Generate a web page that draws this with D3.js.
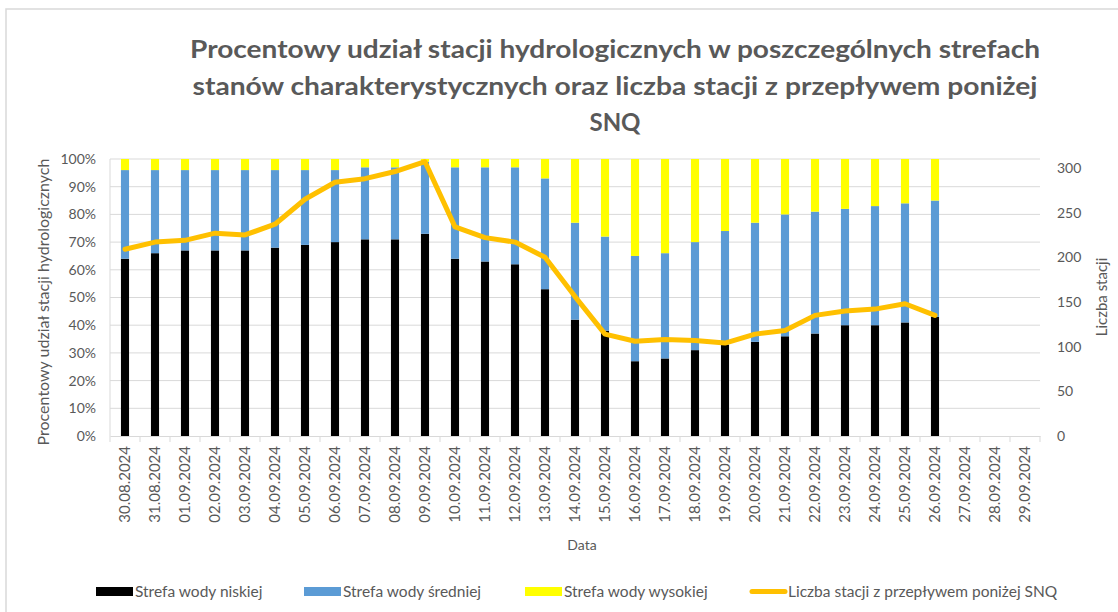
<!DOCTYPE html>
<html>
<head>
<meta charset="utf-8">
<script src="https://cdn.jsdelivr.net/npm/d3@7"></script>
<style>
  html, body { margin: 0; padding: 0; background: #fff; }
  svg { display: block; font-family: Lato, "Open Sans", sans-serif; }
</style>
</head>
<body>
<svg id="chart" width="1118" height="612"></svg>
<script>
const dates = ["30.08.2024","31.08.2024","01.09.2024","02.09.2024","03.09.2024","04.09.2024","05.09.2024","06.09.2024","07.09.2024","08.09.2024","09.09.2024","10.09.2024","11.09.2024","12.09.2024","13.09.2024","14.09.2024","15.09.2024","16.09.2024","17.09.2024","18.09.2024","19.09.2024","20.09.2024","21.09.2024","22.09.2024","23.09.2024","24.09.2024","25.09.2024","26.09.2024","27.09.2024","28.09.2024","29.09.2024"];
const lowZone  = [64,66,67,67,67,68,69,70,71,71,73,64,63,62,53,42,38,27,28,31,33,34,36,37,40,40,41,43];
const midZone  = [32,30,29,29,29,28,27,26,26,26,26,33,34,35,40,35,34,38,38,39,41,43,44,44,42,43,43,42];
const highZone = [4,4,4,4,4,4,4,4,3,3,1,3,3,3,7,23,28,35,34,30,26,23,20,19,18,17,16,15];
const belowSNQ = [209,217,219,227,225,237,265,284,288,296,307,234,222,217,200,156,114,106,108,107,104,114,118,135,140,142,148,135];
const pctTicks = [0,10,20,30,40,50,60,70,80,90,100];
const cntTicks = [0,50,100,150,200,250,300];
const seriesNames = ["Strefa wody niskiej","Strefa wody średniej","Strefa wody wysokiej","Liczba stacji z przepływem poniżej SNQ"];
const colors = ["#000000","#5B9BD5","#FFFF00","#FFC000"];
const titleLines = ["Procentowy udział stacji hydrologicznych w poszczególnych strefach","stanów charakterystycznych oraz liczba stacji z przepływem poniżej","SNQ"];

const svg = d3.select("#chart");
const L = 110, R = 1040, T = 159, B = 436;
const txt = "#595959", grid = "#d9d9d9";

// chart border (top and left visible)
svg.append("rect").attr("x",6).attr("y",9).attr("width",1130).attr("height",620)
  .attr("fill","none").attr("stroke","#d9d9d9").attr("stroke-width",1.5);

const x = d3.scaleBand().domain(dates).range([L,R]).paddingInner(0.73).paddingOuter(0.365);
const y = d3.scaleLinear().domain([0,100]).range([B,T]);
const y2 = d3.scaleLinear().domain([0,310]).range([B,T]);

// gridlines
svg.append("g").selectAll("line").data(pctTicks.slice(1)).join("line")
  .attr("x1",L).attr("x2",R).attr("y1",d=>y(d)).attr("y2",d=>y(d))
  .attr("stroke",grid).attr("stroke-width",1);

// left axis
const gl = svg.append("g").attr("transform",`translate(${L},0)`)
  .call(d3.axisLeft(y).tickValues(pctTicks).tickFormat(d=>d+"%").tickSize(0).tickPadding(14));
gl.select(".domain").remove();
gl.selectAll("text").attr("fill",txt).style("font-size","14px").style("font-family","Lato, sans-serif");

// right axis
const gr = svg.append("g").attr("transform",`translate(${R},0)`)
  .call(d3.axisRight(y2).tickValues(cntTicks).tickSize(0).tickPadding(17));
gr.select(".domain").remove();
gr.selectAll("text").attr("fill",txt).style("font-size","14px").style("font-family","Lato, sans-serif");

// stacked bars
const rows = lowZone.map((v,i)=>({date:dates[i], low:v, mid:midZone[i], high:highZone[i]}));
const stack = d3.stack().keys(["low","mid","high"])(rows);
svg.append("g").selectAll("g").data(stack).join("g")
  .attr("fill",(d,i)=>colors[i])
  .selectAll("rect").data(d=>d).join("rect")
  .attr("x",d=>x(d.data.date)).attr("width",x.bandwidth())
  .attr("y",d=>y(d[1])).attr("height",d=>y(d[0])-y(d[1]));

// bottom axis
const gb = svg.append("g").attr("transform",`translate(0,${B})`)
  .call(d3.axisBottom(x).tickSize(0).tickPadding(0));
gb.select(".domain").attr("stroke",grid).attr("stroke-width",1);
gb.selectAll("text").attr("fill",txt).style("font-size","15px").style("font-family","Lato, sans-serif")
  .attr("text-anchor","end").attr("transform","translate(5,10) rotate(-90)").attr("dy","0");
// category boundary ticks
const bounds = dates.map(d=>x(d) - x.step()*x.paddingInner()/2);
bounds.push(R);
svg.append("g").selectAll("line").data(bounds).join("line")
  .attr("x1",d=>d).attr("x2",d=>d).attr("y1",B).attr("y2",B+6)
  .attr("stroke",grid).attr("stroke-width",1);
svg.append("line").attr("x1",L).attr("x2",L).attr("y1",T).attr("y2",B).attr("stroke",grid);

// line series
const line = d3.line().x((d,i)=>x(dates[i])+x.bandwidth()/2).y(d=>y2(d));
svg.append("path").datum(belowSNQ).attr("d",line)
  .attr("fill","none").attr("stroke",colors[3]).attr("stroke-width",5)
  .attr("stroke-linejoin","round").attr("stroke-linecap","round");

// title
const tg = svg.append("g").attr("fill",txt).style("font-weight","bold").style("font-size","24px");
const widths = [850, 845, null];
const baselines = [58, 95, 131];
titleLines.forEach((t,i)=>{
  const el = tg.append("text").attr("x",615).attr("y",baselines[i]).attr("text-anchor","middle").text(t);
  if (widths[i]) el.attr("textLength",widths[i]).attr("lengthAdjust","spacingAndGlyphs");
});

// axis titles
svg.append("text").attr("transform","translate(49,302) rotate(-90)").attr("text-anchor","middle")
  .attr("fill",txt).style("font-size","16px").text("Procentowy udział stacji hydrologicznych");
svg.append("text").attr("transform","translate(1107,297) rotate(-90)").attr("text-anchor","middle")
  .attr("fill",txt).style("font-size","15px").text("Liczba stacji");
svg.append("text").attr("x",582).attr("y",550).attr("text-anchor","middle")
  .attr("fill",txt).style("font-size","14px").text("Data");

// legend
const legX = [96, 304, 525, 749];
const lg = svg.append("g");
seriesNames.forEach((n,i)=>{
  if (i<3) {
    lg.append("rect").attr("x",legX[i]).attr("y",587).attr("width",37).attr("height",9).attr("fill",colors[i]);
  } else {
    lg.append("line").attr("x1",legX[i]+3).attr("x2",legX[i]+36).attr("y1",591.5).attr("y2",591.5)
      .attr("stroke",colors[i]).attr("stroke-width",5).attr("stroke-linecap","round");
  }
  lg.append("text").attr("x",legX[i]+39).attr("y",597).attr("fill",txt).style("font-size","15.5px").text(n);
});
</script>
</body>
</html>
